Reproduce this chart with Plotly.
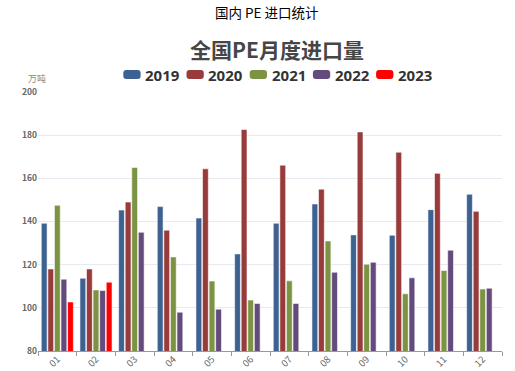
import plotly.graph_objects as go

months = ["01", "02", "03", "04", "05", "06", "07", "08", "09", "10", "11", "12"]
years = ["2019", "2020", "2021", "2022", "2023"]
v2019 = [139.2, 113.7, 145.3, 146.9, 141.6, 125.0, 139.2, 148.1, 133.8, 133.6, 145.5, 152.6]
v2020 = [118.0, 118.0, 149.0, 136.0, 164.4, 182.6, 166.1, 155.0, 181.5, 172.1, 162.3, 144.7]
v2021 = [147.5, 108.3, 165.0, 123.6, 112.4, 103.6, 112.5, 131.0, 120.2, 106.5, 117.3, 108.7]
v2022 = [113.3, 108.0, 135.0, 98.0, 99.4, 102.0, 102.0, 116.5, 121.1, 113.9, 126.7, 109.1]
v2023 = [102.7, 111.9, None, None, None, None, None, None, None, None, None, None]
series = [v2019, v2020, v2021, v2022, v2023]
colors = ["#3d6190", "#983c3b", "#7b9342", "#644b7d", "#ff0000"]

W, H = 515, 371
ML, MR, MT, MB = 38, 13, 92, 20
PW, PH = W - ML - MR, H - MT - MB


def px(x):
    return (x - ML) / PW


def py(y):
    return (H - MB - y) / PH


fig = go.Figure()
for name, vals, c in zip(years, series, colors):
    fig.add_trace(go.Bar(
        x=months, y=vals, name=name,
        marker=dict(color=c, line=dict(color="rgba(255,255,255,0.7)", width=0.8)),
    ))

fig.update_layout(
    width=W, height=H,
    margin=dict(l=ML, r=MR, t=MT, b=MB),
    paper_bgcolor="white", plot_bgcolor="white",
    barmode="group", bargap=0.15, bargroupgap=0.12,
    showlegend=False,
    font=dict(family="Noto Sans CJK SC, sans-serif"),
)
fig.update_xaxes(
    type="category", tickangle=-45, tickson="boundaries", ticks="outside", ticklen=4,
    tickcolor="#999999", showline=True, linecolor="#999999", linewidth=1,
    tickfont=dict(size=9.5, color="#666666"), showgrid=False, automargin=False,
    ticklabelstandoff=-2,
)
fig.update_yaxes(
    range=[80, 200], dtick=20, showgrid=True, gridcolor="#e8e8f0", gridwidth=1,
    zeroline=False, showline=False, ticks="",
    tickfont=dict(size=8.5, color="#666666", weight="bold"), automargin=False,
)

# titles
fig.add_annotation(text="国内 PE 进口统计", xref="paper", yref="paper", x=px(266.5), y=py(12),
                   showarrow=False, xanchor="center", yanchor="middle",
                   font=dict(size=13.5, color="#000000", family="Noto Sans CJK SC"))
fig.add_annotation(text="<b>全国PE月度进口量</b>", xref="paper", yref="paper", x=px(276.5), y=py(48.5),
                   showarrow=False, xanchor="center", yanchor="middle",
                   font=dict(size=21, color="#464646", family="Noto Sans CJK SC"))
fig.add_annotation(text="万吨", xref="paper", yref="paper", x=px(37), y=py(78.5),
                   showarrow=False, xanchor="center", yanchor="middle",
                   font=dict(size=9, color="#888888", family="Noto Sans CJK SC"))

# legend (rounded swatches + bold labels)
sw_x0, step, sw_w, sw_h, cy, r = 123.3, 63.2, 17.3, 9.0, 74.5, 3.0
for i, (name, c) in enumerate(zip(years, colors)):
    x0 = sw_x0 + i * step
    x1 = x0 + sw_w
    y0 = cy - sw_h / 2
    y1 = cy + sw_h / 2
    pts = (f"M {px(x0 + r)},{py(y0)} L {px(x1 - r)},{py(y0)} "
           f"Q {px(x1)},{py(y0)} {px(x1)},{py(y0 + r)} L {px(x1)},{py(y1 - r)} "
           f"Q {px(x1)},{py(y1)} {px(x1 - r)},{py(y1)} L {px(x0 + r)},{py(y1)} "
           f"Q {px(x0)},{py(y1)} {px(x0)},{py(y1 - r)} L {px(x0)},{py(y0 + r)} "
           f"Q {px(x0)},{py(y0)} {px(x0 + r)},{py(y0)} Z")
    fig.add_shape(type="path", path=pts, xref="paper", yref="paper",
                  fillcolor=c, line=dict(width=0))
    fig.add_annotation(text=f"<b>{name}</b>", xref="paper", yref="paper",
                       x=px(x1 + 2.5), y=py(cy), showarrow=False,
                       xanchor="left", yanchor="middle",
                       font=dict(size=15, color="#333333", family="Open Sans, sans-serif"))

fig.write_html("out.html", config={"displayModeBar": False},
               post_script="document.body.style.margin='0px';")
